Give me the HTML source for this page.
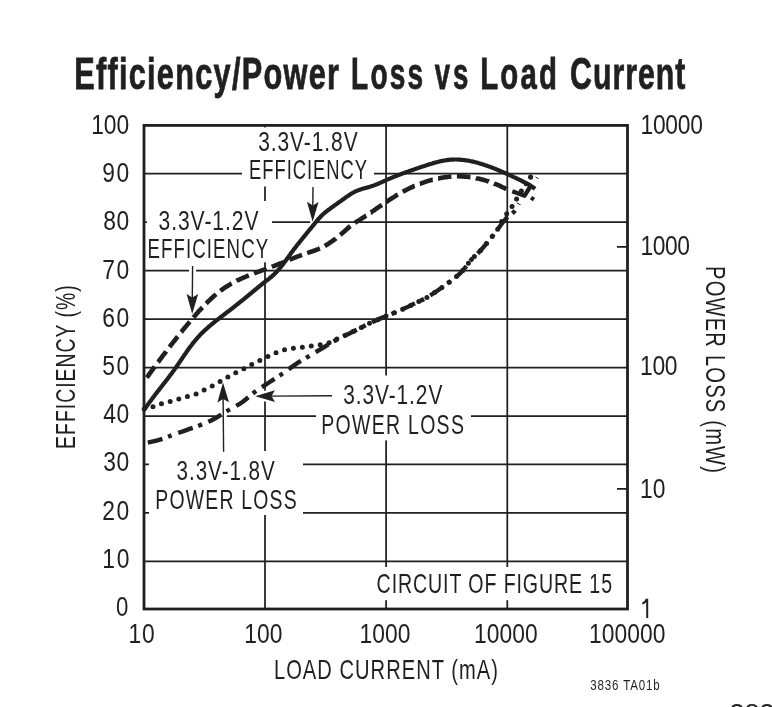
<!DOCTYPE html><html><head><meta charset="utf-8"><style>html,body{margin:0;padding:0;background:#fff;}svg{display:block;filter:grayscale(1);}text{font-family:"Liberation Sans",sans-serif;fill:#231f20;}</style></head><body>
<svg width="772" height="707" viewBox="0 0 772 707">
<rect width="772" height="707" fill="#fff"/>
<path d="M265.0,125.4V609.0 M386.1,125.4V609.0 M507.3,125.4V609.0 M144.0,561.3H627.5 M144.0,512.9H627.5 M144.0,464.4H627.5 M144.0,416.0H627.5 M144.0,367.5H627.5 M144.0,319.0H627.5 M144.0,270.6H627.5 M144.0,222.1H627.5 M144.0,173.7H627.5" stroke="#231f20" stroke-width="1.75" fill="none"/>
<rect x="242" y="127.5" width="132" height="59.0" fill="#fff"/>
<rect x="147" y="201" width="125" height="61.30000000000001" fill="#fff"/>
<rect x="316" y="375.5" width="155" height="64.89999999999998" fill="#fff"/>
<rect x="149" y="451" width="154" height="64" fill="#fff"/>
<rect x="370" y="567" width="250" height="33.200000000000045" fill="#fff"/>
<rect x="144.0" y="125.4" width="483.5" height="483.6" stroke="#231f20" stroke-width="2.8" fill="none"/>
<path d="M617,246.9H627.5" stroke="#231f20" stroke-width="1.75"/>
<path d="M617,488.9H627.5" stroke="#231f20" stroke-width="1.75"/>
<text transform="translate(74.20,88.8) scale(0.69,1)" x="0" y="0" font-size="44.5" font-weight="bold" textLength="383.68" lengthAdjust="spacing" stroke="#231f20" stroke-width="0.8">Efficiency/Power</text>
<text transform="translate(351.10,88.8) scale(0.63,1)" x="0" y="0" font-size="44.5" font-weight="bold" textLength="114.15" lengthAdjust="spacing" stroke="#231f20" stroke-width="0.8">Loss</text>
<text transform="translate(434.70,88.8) scale(0.62,1)" x="0" y="0" font-size="44.5" font-weight="bold" textLength="54.24" lengthAdjust="spacing" stroke="#231f20" stroke-width="0.8">vs</text>
<text transform="translate(480.20,88.8) scale(0.66,1)" x="0" y="0" font-size="44.5" font-weight="bold" textLength="116.13" lengthAdjust="spacing" stroke="#231f20" stroke-width="0.8">Load</text>
<text transform="translate(570.10,88.8) scale(0.68,1)" x="0" y="0" font-size="44.5" font-weight="bold" textLength="169.64" lengthAdjust="spacing" stroke="#231f20" stroke-width="0.8">Current</text>
<text transform="translate(258.20,151.1) scale(0.763,1)" x="0" y="0" font-size="27.5" font-weight="normal" textLength="130.32" lengthAdjust="spacing" stroke="#231f20" stroke-width="0">3.3V-1.8V</text>
<text transform="translate(249.00,179.2) scale(0.669,1)" x="0" y="0" font-size="27.5" font-weight="normal" textLength="176.47" lengthAdjust="spacing" stroke="#231f20" stroke-width="0">EFFICIENCY</text>
<text transform="translate(158.50,229.7) scale(0.766,1)" x="0" y="0" font-size="27.5" font-weight="normal" textLength="130.57" lengthAdjust="spacing" stroke="#231f20" stroke-width="0">3.3V-1.2V</text>
<text transform="translate(147.60,258.4) scale(0.678,1)" x="0" y="0" font-size="27.5" font-weight="normal" textLength="177.79" lengthAdjust="spacing" stroke="#231f20" stroke-width="0">EFFICIENCY</text>
<text transform="translate(343.20,403.8) scale(0.758,1)" x="0" y="0" font-size="27.5" font-weight="normal" textLength="130.74" lengthAdjust="spacing" stroke="#231f20" stroke-width="0">3.3V-1.2V</text>
<text transform="translate(321.20,434.1) scale(0.709,1)" x="0" y="0" font-size="27.5" font-weight="normal" textLength="201.28" lengthAdjust="spacing" stroke="#231f20" stroke-width="0">POWER LOSS</text>
<text transform="translate(176.60,479.8) scale(0.75,1)" x="0" y="0" font-size="27.5" font-weight="normal" textLength="130.82" lengthAdjust="spacing" stroke="#231f20" stroke-width="0">3.3V-1.8V</text>
<text transform="translate(155.30,509.3) scale(0.706,1)" x="0" y="0" font-size="27.5" font-weight="normal" textLength="200.30" lengthAdjust="spacing" stroke="#231f20" stroke-width="0">POWER LOSS</text>
<text transform="translate(376.60,592.6) scale(0.712,1)" x="0" y="0" font-size="27.5" font-weight="normal" textLength="330.68" lengthAdjust="spacing" stroke="#231f20" stroke-width="0">CIRCUIT OF FIGURE 15</text>
<text transform="translate(273.90,678.8) scale(0.731,1)" x="0" y="0" font-size="27.5" font-weight="normal" textLength="306.62" lengthAdjust="spacing" stroke="#231f20" stroke-width="0">LOAD CURRENT (mA)</text>
<text transform="translate(590.30,689.6) scale(0.769,1)" x="0" y="0" font-size="15.0" font-weight="normal" textLength="90.28" lengthAdjust="spacing" stroke="#231f20" stroke-width="0">3836 TA01b</text>
<text transform="translate(128.50,643.4) scale(0.83,1)" x="0" y="0" font-size="27.5" font-weight="normal" textLength="31.46" lengthAdjust="spacing" stroke="#231f20" stroke-width="0">10</text>
<text transform="translate(244.30,643.4) scale(0.83,1)" x="0" y="0" font-size="27.5" font-weight="normal" textLength="46.12" lengthAdjust="spacing" stroke="#231f20" stroke-width="0">100</text>
<text transform="translate(359.40,643.4) scale(0.83,1)" x="0" y="0" font-size="27.5" font-weight="normal" textLength="61.41" lengthAdjust="spacing" stroke="#231f20" stroke-width="0">1000</text>
<text transform="translate(474.00,643.4) scale(0.83,1)" x="0" y="0" font-size="27.5" font-weight="normal" textLength="76.66" lengthAdjust="spacing" stroke="#231f20" stroke-width="0">10000</text>
<text transform="translate(589.00,643.4) scale(0.83,1)" x="0" y="0" font-size="27.5" font-weight="normal" textLength="92.00" lengthAdjust="spacing" stroke="#231f20" stroke-width="0">100000</text>
<text transform="translate(640.50,133.9) scale(0.83,1)" x="0" y="0" font-size="27.5" font-weight="normal" textLength="75.16" lengthAdjust="spacing" stroke="#231f20" stroke-width="0">10000</text>
<text transform="translate(640.50,254.5) scale(0.83,1)" x="0" y="0" font-size="27.5" font-weight="normal" textLength="59.64" lengthAdjust="spacing" stroke="#231f20" stroke-width="0">1000</text>
<text x="116.10" y="616.1" font-size="27.5" font-weight="normal" textLength="12.35" lengthAdjust="spacingAndGlyphs">0</text>
<text transform="translate(102.30,567.89) scale(0.83,1)" x="0" y="0" font-size="27.5" font-weight="normal" textLength="32.62" lengthAdjust="spacing" stroke="#231f20" stroke-width="0">10</text>
<text transform="translate(102.30,519.6800000000001) scale(0.83,1)" x="0" y="0" font-size="27.5" font-weight="normal" textLength="32.56" lengthAdjust="spacing" stroke="#231f20" stroke-width="0">20</text>
<text transform="translate(103.30,471.47) scale(0.83,1)" x="0" y="0" font-size="27.5" font-weight="normal" textLength="31.31" lengthAdjust="spacing" stroke="#231f20" stroke-width="0">30</text>
<text transform="translate(103.30,423.26) scale(0.83,1)" x="0" y="0" font-size="27.5" font-weight="normal" textLength="31.21" lengthAdjust="spacing" stroke="#231f20" stroke-width="0">40</text>
<text transform="translate(102.30,375.05000000000007) scale(0.83,1)" x="0" y="0" font-size="27.5" font-weight="normal" textLength="32.56" lengthAdjust="spacing" stroke="#231f20" stroke-width="0">50</text>
<text transform="translate(102.30,326.84000000000003) scale(0.83,1)" x="0" y="0" font-size="27.5" font-weight="normal" textLength="32.56" lengthAdjust="spacing" stroke="#231f20" stroke-width="0">60</text>
<text transform="translate(102.30,278.63) scale(0.83,1)" x="0" y="0" font-size="27.5" font-weight="normal" textLength="32.56" lengthAdjust="spacing" stroke="#231f20" stroke-width="0">70</text>
<text transform="translate(103.30,230.42) scale(0.83,1)" x="0" y="0" font-size="27.5" font-weight="normal" textLength="31.31" lengthAdjust="spacing" stroke="#231f20" stroke-width="0">80</text>
<text transform="translate(102.30,182.21) scale(0.83,1)" x="0" y="0" font-size="27.5" font-weight="normal" textLength="32.56" lengthAdjust="spacing" stroke="#231f20" stroke-width="0">90</text>
<text transform="translate(91.30,134.0) scale(0.83,1)" x="0" y="0" font-size="27.5" font-weight="normal" textLength="45.61" lengthAdjust="spacing" stroke="#231f20" stroke-width="0">100</text>
<text transform="translate(640.00,375.0) scale(0.83,1)" x="0" y="0" font-size="27.5" font-weight="normal" textLength="45.13" lengthAdjust="spacing" stroke="#231f20" stroke-width="0">100</text>
<text transform="translate(640.00,498.0) scale(0.83,1)" x="0" y="0" font-size="27.5" font-weight="normal" textLength="30.72" lengthAdjust="spacing" stroke="#231f20" stroke-width="0">10</text>
<text transform="translate(75,0) rotate(-90) translate(-448.90,0) scale(0.705,1)" x="0" y="0" font-size="27.5" textLength="232.08" lengthAdjust="spacing">EFFICIENCY (%)</text>
<text transform="translate(706.2,0) rotate(90) translate(266.00,0) scale(0.734,1)" x="0" y="0" font-size="27.5" textLength="282.10" lengthAdjust="spacing">POWER LOSS (mW)</text>
<text x="729.5" y="722.5" font-size="27">3836</text>
<path d="M642.3,603.6 Q645.5,602.5 646.9,598.8 M647.2,598.8 V618" stroke="#231f20" stroke-width="2" fill="none"/>
<path d="M313.0,187.0L312.8,205.4" stroke="#fff" stroke-width="7"/><path d="M312.6,221.7 L307.0,201.8 L312.8,205.4 L318.6,202.0 Z" fill="#fff" stroke="#fff" stroke-width="5" stroke-linejoin="round"/><path d="M313.0,187.0L312.8,207.4" stroke="#231f20" stroke-width="1.4"/><path d="M312.6,221.7 L307.0,201.8 L312.8,205.4 L318.6,202.0 Z" fill="#231f20"/>
<path d="M192.6,265.9L192.3,297.6" stroke="#fff" stroke-width="7"/><path d="M192.2,313.9 L186.6,294.1 L192.3,297.6 L198.2,294.1 Z" fill="#fff" stroke="#fff" stroke-width="5" stroke-linejoin="round"/><path d="M192.6,265.9L192.3,299.6" stroke="#231f20" stroke-width="1.4"/><path d="M192.2,313.9 L186.6,294.1 L192.3,297.6 L198.2,294.1 Z" fill="#231f20"/>
<path d="M332.0,395.8L271.5,396.1" stroke="#fff" stroke-width="7"/><path d="M255.2,396.2 L275.0,390.3 L271.5,396.1 L275.0,401.9 Z" fill="#fff" stroke="#fff" stroke-width="5" stroke-linejoin="round"/><path d="M332.0,395.8L269.5,396.1" stroke="#231f20" stroke-width="1.4"/><path d="M255.2,396.2 L275.0,390.3 L271.5,396.1 L275.0,401.9 Z" fill="#231f20"/>
<path d="M223.6,451.7L223.1,398.9" stroke="#fff" stroke-width="7"/><path d="M223.0,382.6 L229.0,402.3 L223.1,398.9 L217.4,402.4 Z" fill="#fff" stroke="#fff" stroke-width="5" stroke-linejoin="round"/><path d="M223.6,451.7L223.1,396.9" stroke="#231f20" stroke-width="1.4"/><path d="M223.0,382.6 L229.0,402.3 L223.1,398.9 L217.4,402.4 Z" fill="#231f20"/>
<path d="M144.8,408.9 L145.4,408.1 L146.0,407.3 L146.6,406.4 L147.1,405.6 L147.7,404.8 L148.3,404.0 L148.9,403.2 L149.5,402.3 L150.1,401.5 L150.7,400.7 L151.3,399.9 L151.9,399.1 L152.5,398.3 L153.1,397.5 L153.7,396.7 L154.3,395.9 L154.9,395.1 L155.5,394.3 L156.1,393.5 L156.7,392.7 L157.3,391.9 L157.9,391.1 L158.6,390.4 L159.2,389.6 L159.8,388.8 L160.4,388.0 L161.0,387.2 L161.6,386.4 L162.3,385.6 L162.9,384.8 L163.5,384.0 L164.1,383.2 L164.7,382.5 L165.3,381.7 L165.9,380.9 L166.5,380.1 L167.2,379.3 L167.8,378.5 L168.4,377.7 L169.0,376.9 L169.6,376.1 L170.2,375.3 L170.8,374.5 L171.4,373.7 L172.0,372.9 L172.6,372.1 L173.2,371.3 L173.8,370.5 L174.4,369.6 L174.9,368.8 L175.5,368.0 L176.1,367.2 L176.7,366.4 L177.3,365.5 L177.8,364.7 L178.4,363.9 L179.0,363.0 L179.5,362.2 L180.1,361.4 L180.7,360.5 L181.2,359.7 L181.8,358.9 L182.4,358.0 L182.9,357.2 L183.5,356.4 L184.1,355.5 L184.6,354.7 L185.2,353.9 L185.8,353.0 L186.4,352.2 L186.9,351.4 L187.5,350.6 L188.1,349.8 L188.7,348.9 L189.3,348.1 L189.9,347.3 L190.5,346.5 L191.1,345.7 L191.7,344.9 L192.3,344.1 L192.9,343.3 L193.5,342.5 L194.1,341.7 L194.8,341.0 L195.4,340.2 L196.0,339.4 L196.7,338.7 L197.3,337.9 L198.0,337.2 L198.7,336.4 L199.4,335.7 L200.0,335.0 L200.7,334.3 L201.4,333.6 L202.1,332.9 L202.9,332.2 L203.6,331.5 L204.3,330.8 L205.0,330.1 L205.8,329.4 L206.5,328.8 L207.3,328.1 L208.0,327.4 L208.8,326.8 L209.5,326.1 L210.3,325.5 L211.1,324.8 L211.8,324.2 L212.6,323.6 L213.4,322.9 L214.2,322.3 L214.9,321.7 L215.7,321.0 L216.5,320.4 L217.3,319.8 L218.1,319.2 L218.9,318.6 L219.7,317.9 L220.5,317.3 L221.3,316.7 L222.1,316.1 L222.9,315.5 L223.7,314.9 L224.5,314.3 L225.3,313.7 L226.1,313.0 L226.9,312.4 L227.7,311.8 L228.5,311.2 L229.3,310.6 L230.1,310.0 L230.9,309.4 L231.7,308.8 L232.5,308.1 L233.3,307.5 L234.1,306.9 L234.8,306.3 L235.6,305.7 L236.4,305.0 L237.2,304.4 L238.0,303.8 L238.8,303.2 L239.6,302.5 L240.3,301.9 L241.1,301.3 L241.9,300.7 L242.7,300.0 L243.5,299.4 L244.2,298.8 L245.0,298.1 L245.8,297.5 L246.6,296.9 L247.3,296.2 L248.1,295.6 L248.9,295.0 L249.6,294.3 L250.4,293.7 L251.2,293.1 L252.0,292.4 L252.7,291.8 L253.5,291.1 L254.3,290.5 L255.0,289.9 L255.8,289.2 L256.6,288.6 L257.4,287.9 L258.1,287.3 L258.9,286.7 L259.7,286.0 L260.5,285.4 L261.3,284.8 L262.1,284.1 L262.8,283.5 L263.6,282.9 L264.4,282.3 L265.2,281.7 L266.0,281.0 L266.8,280.4 L267.6,279.8 L268.4,279.2 L269.2,278.6 L270.0,277.9 L270.8,277.3 L271.5,276.7 L272.3,276.0 L273.0,275.3 L273.8,274.7 L274.5,274.0 L275.2,273.3 L275.9,272.6 L276.6,271.8 L277.3,271.1 L277.9,270.4 L278.6,269.6 L279.2,268.9 L279.9,268.1 L280.5,267.3 L281.2,266.6 L281.8,265.8 L282.4,265.0 L283.0,264.2 L283.6,263.4 L284.2,262.6 L284.8,261.8 L285.4,261.0 L286.0,260.2 L286.6,259.4 L287.2,258.5 L287.8,257.7 L288.4,256.9 L289.0,256.1 L289.6,255.3 L290.2,254.5 L290.7,253.6 L291.3,252.8 L291.9,252.0 L292.5,251.2 L293.1,250.4 L293.7,249.6 L294.3,248.8 L295.0,248.0 L295.6,247.2 L296.2,246.4 L296.8,245.6 L297.4,244.8 L298.0,244.0 L298.6,243.3 L299.3,242.5 L299.9,241.7 L300.5,240.9 L301.1,240.1 L301.8,239.3 L302.4,238.6 L303.0,237.8 L303.7,237.0 L304.3,236.2 L304.9,235.4 L305.6,234.7 L306.2,233.9 L306.8,233.1 L307.5,232.3 L308.1,231.6 L308.7,230.8 L309.4,230.0 L310.0,229.2 L310.7,228.5 L311.3,227.7 L311.9,226.9 L312.6,226.1 L313.2,225.4 L313.8,224.6 L314.5,223.8 L315.1,223.0 L315.7,222.2 L316.4,221.5 L317.0,220.7 L317.7,219.9 L318.3,219.2 L319.0,218.4 L319.7,217.7 L320.3,216.9 L321.0,216.2 L321.7,215.5 L322.5,214.8 L323.2,214.1 L323.9,213.5 L324.7,212.8 L325.5,212.2 L326.2,211.6 L327.0,211.0 L327.8,210.4 L328.6,209.8 L329.4,209.2 L330.2,208.6 L331.0,208.0 L331.8,207.4 L332.7,206.8 L333.5,206.2 L334.3,205.6 L335.1,205.0 L335.9,204.5 L336.8,203.9 L337.6,203.3 L338.4,202.7 L339.2,202.1 L340.0,201.5 L340.9,201.0 L341.7,200.4 L342.5,199.8 L343.3,199.2 L344.2,198.6 L345.0,198.0 L345.8,197.4 L346.6,196.8 L347.4,196.3 L348.3,195.7 L349.1,195.1 L349.9,194.6 L350.8,194.0 L351.6,193.5 L352.5,193.0 L353.4,192.5 L354.2,192.0 L355.1,191.6 L356.0,191.2 L356.9,190.8 L357.8,190.4 L358.8,190.1 L359.7,189.7 L360.6,189.4 L361.6,189.1 L362.6,188.8 L363.5,188.5 L364.5,188.3 L365.4,188.0 L366.4,187.7 L367.4,187.4 L368.4,187.2 L369.3,186.9 L370.3,186.6 L371.3,186.3 L372.2,186.0 L373.2,185.7 L374.1,185.3 L375.1,185.0 L376.0,184.6 L377.0,184.3 L377.9,183.9 L378.8,183.5 L379.7,183.0 L380.7,182.6 L381.6,182.2 L382.5,181.8 L383.4,181.4 L384.3,181.0 L385.2,180.6 L386.2,180.1 L387.1,179.7 L388.0,179.3 L388.9,178.9 L389.8,178.6 L390.8,178.2 L391.7,177.8 L392.6,177.4 L393.5,177.0 L394.5,176.6 L395.4,176.3 L396.3,175.9 L397.2,175.5 L398.2,175.2 L399.1,174.8 L400.0,174.5 L400.9,174.1 L401.9,173.8 L402.8,173.4 L403.7,173.1 L404.7,172.7 L405.6,172.4 L406.5,172.0 L407.5,171.7 L408.4,171.4 L409.4,171.0 L410.3,170.7 L411.2,170.4 L412.2,170.0 L413.1,169.7 L414.1,169.4 L415.0,169.1 L416.0,168.7 L416.9,168.4 L417.9,168.1 L418.8,167.8 L419.8,167.5 L420.8,167.1 L421.7,166.8 L422.7,166.5 L423.6,166.2 L424.6,165.9 L425.6,165.6 L426.5,165.3 L427.5,164.9 L428.5,164.6 L429.4,164.3 L430.4,164.0 L431.4,163.7 L432.4,163.4 L433.3,163.1 L434.3,162.9 L435.3,162.6 L436.3,162.3 L437.3,162.1 L438.3,161.8 L439.2,161.6 L440.2,161.3 L441.2,161.1 L442.2,160.9 L443.2,160.7 L444.2,160.5 L445.2,160.4 L446.1,160.2 L447.1,160.1 L448.1,159.9 L449.1,159.8 L450.1,159.7 L451.1,159.7 L452.1,159.6 L453.1,159.6 L454.1,159.5 L455.0,159.5 L456.0,159.5 L457.0,159.5 L458.0,159.6 L459.0,159.6 L460.0,159.7 L461.0,159.8 L462.0,159.9 L463.0,160.0 L463.9,160.1 L464.9,160.2 L465.9,160.3 L466.9,160.5 L467.9,160.6 L468.9,160.8 L469.8,161.0 L470.8,161.2 L471.8,161.4 L472.8,161.6 L473.8,161.8 L474.7,162.1 L475.7,162.3 L476.7,162.6 L477.7,162.8 L478.6,163.1 L479.6,163.4 L480.6,163.7 L481.5,164.0 L482.5,164.3 L483.5,164.6 L484.4,164.9 L485.4,165.2 L486.4,165.6 L487.3,165.9 L488.3,166.2 L489.2,166.6 L490.2,166.9 L491.1,167.3 L492.1,167.6 L493.0,168.0 L494.0,168.4 L494.9,168.8 L495.8,169.1 L496.8,169.5 L497.7,169.9 L498.6,170.3 L499.6,170.7 L500.5,171.1 L501.4,171.5 L502.3,171.8 L503.2,172.2 L504.2,172.6 L505.1,173.0 L506.0,173.4 L506.9,173.9 L507.8,174.3 L508.7,174.7 L509.6,175.1 L510.5,175.5 L511.4,175.9 L512.3,176.3 L513.2,176.8 L514.1,177.2 L515.0,177.6 L515.9,178.0 L516.8,178.5 L517.7,178.9 L518.6,179.4 L519.5,179.8 L520.4,180.2 L521.3,180.7 L522.2,181.1 L523.1,181.6 L524.0,182.1 L524.9,182.5 L525.7,183.0 L526.6,183.5 L527.5,183.9 L528.4,184.4 L529.3,184.9 L530.2,185.4 L531.0,186.0 L531.9,186.5 L532.7,187.1 L533.5,187.7 L534.3,188.3 L535.1,188.9" stroke="#231f20" stroke-width="4.2" fill="none" stroke-linejoin="round"/>
<path d="M494.0,183.4 L494.4,183.6 L495.3,184.0 L496.3,184.3 L497.2,184.7 L498.1,185.1 L499.0,185.5 L500.0,185.9 L500.9,186.4 L501.8,186.8 L502.7,187.2 L503.6,187.7 L504.5,188.1 L505.4,188.6 L506.3,189.0 M475.8,178.1 L476.1,178.2 L477.1,178.4 L478.1,178.6 L479.1,178.8 L480.0,179.0 L481.0,179.3 L482.0,179.5 L482.9,179.8 L483.9,180.0 L484.9,180.3 L485.8,180.6 L486.8,180.9 L487.8,181.2 L488.7,181.5 L488.9,181.6 M456.9,176.3 L457.3,176.3 L458.3,176.3 L459.3,176.3 L460.3,176.4 L461.3,176.4 L462.3,176.4 L463.3,176.5 L464.3,176.6 L465.2,176.6 L466.2,176.7 L467.2,176.8 L468.2,176.9 L469.2,177.0 L470.2,177.2 L470.4,177.2 M438.1,178.4 L438.4,178.4 L439.4,178.2 L440.4,178.0 L441.4,177.8 L442.3,177.7 L443.3,177.5 L444.3,177.3 L445.3,177.2 L446.3,177.1 L447.3,177.0 L448.3,176.8 L449.3,176.8 L450.3,176.7 L451.3,176.6 L451.4,176.6 M419.9,183.8 L420.0,183.8 L421.0,183.4 L421.9,183.1 L422.9,182.7 L423.8,182.4 L424.8,182.1 L425.7,181.7 L426.7,181.4 L427.6,181.1 L428.6,180.8 L429.6,180.6 L430.6,180.3 L431.5,180.0 L432.5,179.7 L432.7,179.7 M402.7,191.8 L402.7,191.8 L403.6,191.3 L404.4,190.9 L405.3,190.4 L406.2,189.9 L407.1,189.5 L408.0,189.0 L408.9,188.6 L409.8,188.1 L410.7,187.7 L411.6,187.3 L412.6,186.9 L413.5,186.4 L414.4,186.0 L414.8,185.9 M386.5,201.8 L386.6,201.8 L387.4,201.2 L388.2,200.7 L389.0,200.1 L389.9,199.6 L390.7,199.0 L391.6,198.5 L392.4,197.9 L393.2,197.4 L394.1,196.9 L394.9,196.4 L395.8,195.8 L396.6,195.3 L397.5,194.8 L397.9,194.6 M370.8,212.5 L370.9,212.5 L371.7,211.9 L372.5,211.4 L373.3,210.8 L374.2,210.2 L375.0,209.7 L375.8,209.1 L376.6,208.5 L377.5,207.9 L378.3,207.4 L379.1,206.8 L379.9,206.2 L380.8,205.7 L381.6,205.1 L381.9,204.9 M354.9,222.9 L355.7,222.3 L356.5,221.8 L357.4,221.3 L358.3,220.7 L359.1,220.2 L360.0,219.7 L360.8,219.1 L361.7,218.6 L362.5,218.0 L363.4,217.5 L364.2,217.0 L365.0,216.4 L365.9,215.8 L366.3,215.6 M340.2,234.9 L341.0,234.3 L341.7,233.6 L342.5,233.0 L343.3,232.3 L344.0,231.7 L344.8,231.0 L345.5,230.3 L346.2,229.7 L347.0,229.0 L347.7,228.3 L348.5,227.7 L349.2,227.0 L350.0,226.4 L350.4,226.1 M324.8,246.0 L325.6,245.5 L326.4,245.0 L327.3,244.5 L328.1,244.0 L328.9,243.4 L329.8,242.8 L330.6,242.3 L331.4,241.7 L332.2,241.1 L333.1,240.5 L333.9,239.9 L334.7,239.3 L335.5,238.7 L335.9,238.3 M307.2,253.1 L308.0,252.8 L309.0,252.4 L309.9,252.1 L310.9,251.8 L311.9,251.5 L312.8,251.1 L313.8,250.8 L314.7,250.5 L315.6,250.1 L316.6,249.8 L317.5,249.4 L318.4,249.1 L319.4,248.7 L319.9,248.5 M289.4,259.7 L290.2,259.4 L291.1,259.1 L292.0,258.7 L293.0,258.3 L293.9,257.9 L294.8,257.6 L295.7,257.2 L296.7,256.9 L297.6,256.5 L298.5,256.2 L299.5,255.8 L300.4,255.5 L301.4,255.1 L302.0,254.9 M271.8,266.8 L272.7,266.4 L273.6,266.1 L274.6,265.7 L275.5,265.4 L276.4,265.0 L277.3,264.6 L278.3,264.3 L279.2,263.9 L280.1,263.5 L281.0,263.2 L282.0,262.8 L282.9,262.4 L283.8,262.1 L284.3,261.8 M254.0,273.4 L254.7,273.1 L255.6,272.8 L256.6,272.4 L257.5,272.0 L258.5,271.7 L259.4,271.3 L260.4,271.0 L261.3,270.6 L262.3,270.3 L263.2,269.9 L264.2,269.6 L265.1,269.2 L266.1,268.9 L266.6,268.7 M236.5,280.9 L237.0,280.6 L237.9,280.2 L238.8,279.8 L239.8,279.3 L240.7,278.9 L241.6,278.5 L242.5,278.1 L243.4,277.7 L244.3,277.3 L245.3,276.9 L246.2,276.5 L247.1,276.1 L248.1,275.7 L248.8,275.4 M220.4,290.9 L220.9,290.5 L221.7,289.9 L222.5,289.3 L223.3,288.7 L224.1,288.1 L225.0,287.6 L225.8,287.0 L226.6,286.5 L227.5,286.0 L228.3,285.4 L229.2,284.9 L230.0,284.4 L230.9,283.9 L231.7,283.5 M206.2,303.5 L206.7,303.0 L207.4,302.2 L208.1,301.5 L208.9,300.8 L209.6,300.1 L210.3,299.5 L211.0,298.8 L211.8,298.1 L212.5,297.4 L213.2,296.8 L214.0,296.1 L214.7,295.4 L215.5,294.8 L216.1,294.3 M193.4,317.5 L193.8,317.0 L194.5,316.3 L195.1,315.5 L195.8,314.8 L196.4,314.0 L197.1,313.2 L197.8,312.5 L198.4,311.7 L199.1,311.0 L199.8,310.2 L200.5,309.5 L201.2,308.8 L201.8,308.0 L202.4,307.4 M181.2,332.1 L181.6,331.7 L182.2,330.9 L182.8,330.1 L183.5,329.3 L184.1,328.6 L184.7,327.8 L185.4,327.0 L186.0,326.2 L186.7,325.5 L187.3,324.7 L187.9,323.9 L188.6,323.2 L189.2,322.4 L189.8,321.7 M169.5,347.0 L169.8,346.6 L170.4,345.8 L171.0,345.0 L171.6,344.2 L172.3,343.4 L172.9,342.6 L173.5,341.9 L174.1,341.1 L174.7,340.3 L175.3,339.5 L176.0,338.7 L176.6,337.9 L177.2,337.1 L177.8,336.4 M158.0,362.2 L158.4,361.8 L159.0,361.0 L159.6,360.2 L160.1,359.4 L160.7,358.6 L161.3,357.8 L161.9,357.0 L162.5,356.2 L163.1,355.4 L163.7,354.6 L164.4,353.8 L165.0,353.0 L165.6,352.2 L166.1,351.4 M146.8,377.6 L147.1,377.2 L147.7,376.4 L148.3,375.6 L148.9,374.7 L149.5,373.9 L150.0,373.1 L150.6,372.3 L151.2,371.5 L151.8,370.7 L152.4,369.9 L153.0,369.1 L153.6,368.2 L154.2,367.4 L154.8,366.6" stroke="#231f20" stroke-width="4.6" fill="none"/>
<circle cx="530.6" cy="177.1" r="2.6" fill="#231f20"/>
<path d="M512.3,191.2 L524.6,195.7 L531,185.3" stroke="#231f20" stroke-width="4.4" fill="none" stroke-linejoin="round"/>
<path d="M531,197.6 L534,199.6" stroke="#231f20" stroke-width="4" fill="none"/>
<path d="M144.2,408.9 C145.7,408.5 150.4,407.5 153.3,406.6 C156.2,405.8 158.8,404.7 161.7,403.8 C164.6,402.9 167.8,402.1 170.7,401.3 C173.6,400.5 176.5,399.7 179.4,398.8 C182.3,397.9 185.2,397.1 188.2,396.2 C191.2,395.3 194.3,394.6 197.2,393.5 C200.0,392.4 202.6,390.7 205.3,389.3 C208.0,387.9 210.9,386.7 213.6,385.3 C216.3,383.9 219.0,382.2 221.6,380.7 C224.2,379.2 226.7,377.7 229.3,376.3 C231.9,374.9 234.4,373.5 237.1,372.1 C239.8,370.7 243.0,369.1 245.7,367.7 C248.4,366.3 250.8,365.0 253.5,363.6 C256.2,362.2 259.2,360.8 262.0,359.4 C264.8,358.0 267.4,356.8 270.1,355.5 C272.8,354.2 275.6,352.9 278.4,351.8 C281.2,350.8 283.9,349.9 286.9,349.2 C289.9,348.5 293.2,348.2 296.3,347.8 C299.4,347.4 302.3,347.2 305.3,346.8 C308.3,346.4 311.2,346.1 314.2,345.7 C317.2,345.2 320.5,344.8 323.5,344.1 C326.5,343.5 329.5,342.8 332.1,341.8 C334.7,340.8 335.8,339.5 339.1,337.9 C342.4,336.3 347.1,334.4 351.8,332.2 C356.5,329.9 362.1,326.9 367.3,324.4 C372.5,321.9 377.7,319.6 382.9,317.4 C388.1,315.2 393.5,313.3 398.4,311.2 C403.3,309.1 407.5,307.0 412.4,304.6 C417.3,302.2 423.1,299.7 428.0,296.8 C432.9,293.9 437.6,290.6 442.0,287.5 C446.4,284.4 451.0,280.9 454.4,278.2 C457.8,275.5 459.3,274.3 462.2,271.2 C465.1,268.1 468.6,262.7 471.5,259.5 C474.4,256.3 476.4,254.9 479.3,251.8 C482.2,248.7 485.6,244.6 488.6,240.9 C491.6,237.2 495.2,232.9 497.2,229.9 C499.2,226.9 499.2,225.5 500.6,223.1 C502.0,220.7 503.7,218.1 505.5,215.5 C507.3,212.9 509.5,210.4 511.2,207.8 C512.9,205.2 513.8,203.4 515.8,200.2 C517.8,197.0 520.5,192.3 523.0,188.5 C525.5,184.7 529.3,179.0 530.6,177.1" stroke="#231f20" stroke-width="5" fill="none" stroke-linecap="round" stroke-dasharray="0 9"/>
<path d="M535.5,176.9 L538.5,178.8" stroke="#231f20" stroke-width="1" fill="none"/>
<path d="M144.0,443.5 C146.8,442.8 155.1,441.1 160.7,439.4 C166.2,437.7 171.1,435.4 177.3,433.2 C183.5,431.0 192.1,428.3 198.0,426.0 C203.9,423.7 208.2,422.0 213.0,419.5 C217.8,417.0 222.2,413.8 227.0,411.0 C231.8,408.2 237.3,405.6 241.8,402.5 C246.3,399.4 249.8,395.6 254.2,392.4 C258.6,389.1 263.5,386.1 268.2,383.0 C272.9,379.9 277.8,376.8 282.3,373.7 C286.9,370.6 291.0,367.4 295.5,364.4 C300.0,361.4 304.7,358.7 309.5,355.8 C314.3,352.9 319.7,349.7 324.3,347.0 C328.9,344.3 332.4,342.0 337.0,339.5 C341.6,337.0 346.8,334.7 351.8,332.2 C356.9,329.7 362.1,326.9 367.3,324.4 C372.5,321.9 377.7,319.6 382.9,317.4 C388.1,315.2 393.5,313.3 398.4,311.2 C403.3,309.1 407.5,307.0 412.4,304.6 C417.3,302.2 423.1,299.7 428.0,296.8 C432.9,293.9 437.6,290.6 442.0,287.5 C446.4,284.4 451.0,280.9 454.4,278.2 C457.8,275.5 459.3,274.3 462.2,271.2 C465.1,268.1 468.6,262.7 471.5,259.5 C474.4,256.3 476.4,254.9 479.3,251.8 C482.2,248.7 485.6,244.6 488.6,240.9 C491.6,237.2 494.4,233.6 497.2,229.9 C500.0,226.2 502.9,222.0 505.7,218.9 C508.5,215.8 511.9,214.2 514.1,211.6 C516.3,209.0 518.2,204.8 519.0,203.5" stroke="#231f20" stroke-width="4.4" fill="none" stroke-dasharray="15 6 4 7" stroke-dashoffset="-4"/>
</svg></body></html>
